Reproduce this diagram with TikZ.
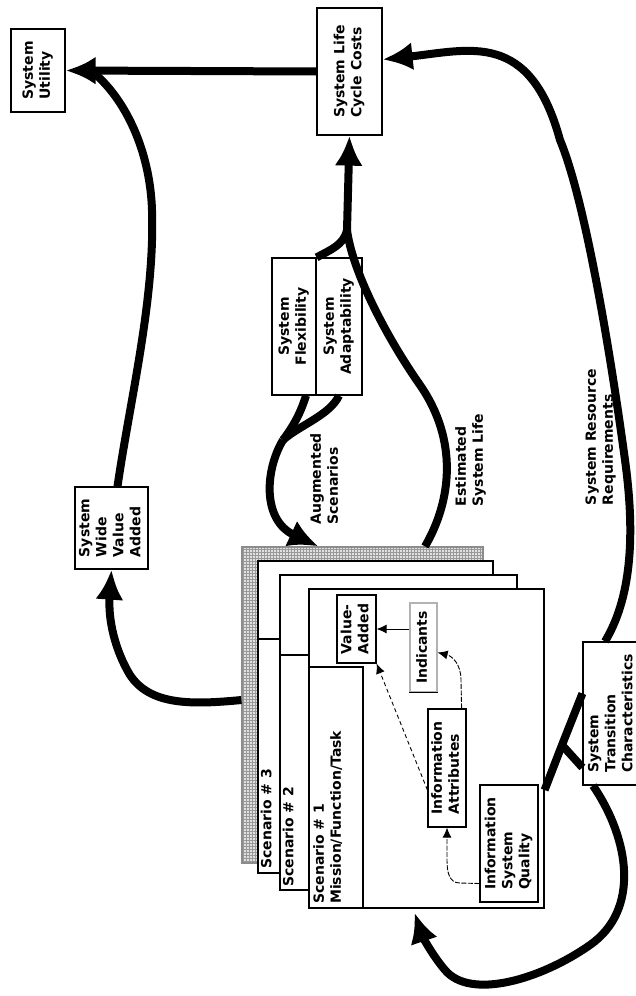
\documentclass[tikz,border=0pt]{standalone}
\usepackage{fontspec}
\usepackage{graphicx}
\usetikzlibrary{arrows.meta,positioning,calc,patterns}
\newfontfamily\labfont{DejaVu Sans}
\newcommand{\vlab}[2][l]{\rotatebox{90}{\begin{tabular}{@{}#1@{}}#2\end{tabular}}}

\begin{document}
\begin{tikzpicture}[x=1pt,y=-1pt,
  lab/.style={font=\labfont\bfseries\fontsize{14}{17}\selectfont,inner sep=0pt},
  box/.style={lab,draw,line width=1.2pt,fill=white},
  sheet/.style={draw,line width=1.2pt,fill=white,inner sep=0pt},
  flow/.style={line width=8pt,-{Latex[length=30pt,width=28pt]}},
  feed/.style={line width=8pt},
  link/.style={line width=0.9pt,-{Latex[length=10pt,width=9pt]}}]
\useasboundingbox (0,0) rectangle (636,996);
% scenario stack
\node[sheet,draw=black!45,preaction={fill=black!12},pattern=grid,pattern color=black!40,minimum width=241pt,minimum height=316pt] (s0) at (362.5,705) {};
\node[sheet,minimum width=235pt,minimum height=312pt] (s3) at (375.5,717) {};
\node[sheet,minimum width=237pt,minimum height=315pt] (s2) at (398.5,732.5) {};
\node[sheet,minimum width=235pt,minimum height=319pt] (s1) at (426.5,748.5) {};
\draw[line width=1.2pt] (258,639) -- (280,639);
\draw[line width=1.2pt] (280,655) -- (309,655);
\draw[line width=1.2pt] (309,667) -| (363,908);
\node[lab,anchor=south] (t3) at (268,869) {\vlab{Scenario \# 3}};
\node[lab,anchor=south] (t2) at (290,887) {\vlab{Scenario \# 2}};
\node[lab,anchor=south] (t1) at (329,904) {\vlab{Scenario \# 1\\Mission/Function/Task}};
% inside scenario 1
\node[box,minimum width=39pt,minimum height=68pt] (va) at (356.5,629) {\vlab{Value-\\Added}};
\node[box,draw=black!30,minimum width=27pt,minimum height=89pt] (ind) at (423.5,647.5) {\vlab{Indicants}};
\draw[line width=1.2pt] (ind.south west) -- (ind.south east);
\node[box,minimum width=38pt,minimum height=118pt] (ia) at (447,768) {\vlab{Information\\Attributes}};
\node[box,minimum width=58pt,minimum height=117pt] (isq) at (509,843.5) {\vlab{Information\\System\\Quality}};
% outer boxes
\node[box,minimum width=54pt,minimum height=83pt] (util) at (38,70.5) {\vlab{System\\Utility}};
\node[box,minimum width=65pt,minimum height=127pt] (slcc) at (349.5,71.5) {\vlab{System Life\\Cycle Costs}};
\node[box,minimum width=73pt,minimum height=82pt] (swva) at (111.5,528) {\vlab{System\\Wide\\Value\\Added}};
\node[box,minimum width=44pt,minimum height=137pt] (flex) at (294,326.5) {\vlab[c]{System\\Flexibility}};
\node[box,minimum width=46pt,minimum height=137pt] (adapt) at (339,326.5) {\vlab[c]{System\\Adaptability}};
\node[box,minimum width=58pt,minimum height=143pt] (trans) at (612,713.5) {\vlab{System\\Transition\\Characteristics}};
\node[lab] (aug) at (326,479) {\vlab{Augmented\\Scenarios}};
\node[lab] (life) at (471,460) {\vlab{Estimated\\System Life}};
\node[lab] (res) at (601,437) {\vlab{System Resource\\Requirements}};
\coordinate (fork) at (347,230);
\coordinate (merge) at (283,440);
\coordinate (tfork) at (562,745);
% thick flows
\draw[flow] (slcc.west) -- (util.east);
\draw[feed] ([xshift=6pt]swva.north) .. controls (130,400) and (155,300) .. (152,210) .. controls (150,150) and (125,100) .. ([xshift=30pt,yshift=-4pt]util.east);
\draw[flow] ([yshift=5pt]s0.west) .. controls (190,705) and (150,705) .. (130,675) .. controls (115,650) and (108,620) .. (swva.south);
\draw[flow] ([xshift=62.5pt]s0.north) .. controls (452,500) and (458,440) .. (420,385) .. controls (385,335) and (352,270) .. (fork) -- (slcc.south);
\draw[feed] (flex.north east) .. controls (330,250) and (344,245) .. (fork);
\draw[feed] ([xshift=12pt]flex.south) .. controls (300,415) and (292,428) .. (merge);
\draw[feed] (adapt.south) .. controls (330,415) and (300,425) .. (merge);
\draw[flow] (merge) .. controls (265,470) and (262,520) .. ([xshift=-44pt]s0.north);
\draw[flow] ([xshift=-7pt]trans.north) .. controls (630,600) and (636,540) .. (625,460) .. controls (610,350) and (585,200) .. (560,140) .. controls (530,30) and (470,50) .. ([yshift=12pt]slcc.east);
\draw[feed] ([yshift=-41.5pt]s1.east) -- (tfork) -- ([yshift=20pt]trans.west);
\draw[feed] (tfork) -- ([yshift=-54pt]trans.west);
\draw[flow] ([xshift=-19pt]trans.south) .. controls (630,840) and (640,910) .. (590,945) .. controls (540,980) and (470,1000) .. (445,970) .. controls (432,955) and (422,935) .. ([xshift=-12pt,yshift=-4pt]s1.south);
% thin links
\draw[link] (ind.west |- va.east) -- (va.east);
\draw[link,dash pattern=on 5pt off 1.5pt] ([xshift=-5pt]ia.north east) -- (461,680) .. controls (461,664) and (452,656) .. ([yshift=-5pt]ind.east);
\draw[link,dash pattern=on 4pt off 3pt] ([yshift=-22pt]ia.west) -- (va.south east);
\draw[link,dash pattern=on 5pt off 1.5pt] ([yshift=-40pt]isq.west) -- (460,883) .. controls (449,883) and (447,872) .. (447,860) -- (ia.south);
\end{tikzpicture}
\end{document}
